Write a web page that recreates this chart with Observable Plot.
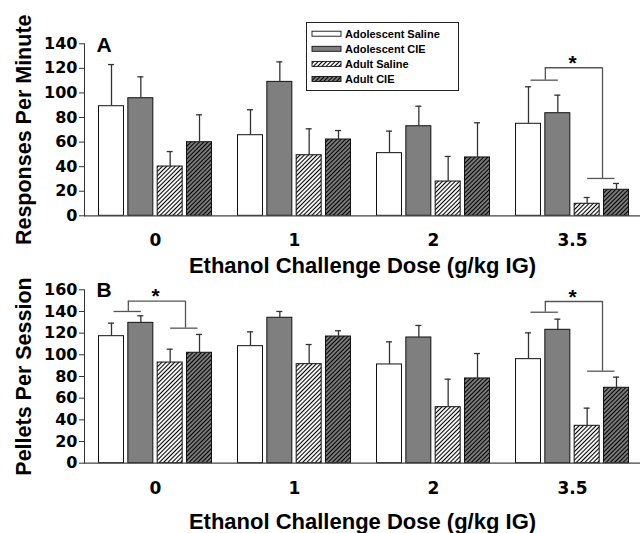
<!DOCTYPE html>
<html><head><meta charset="utf-8">
<script src="https://cdn.jsdelivr.net/npm/d3@7"></script>
<script src="https://cdn.jsdelivr.net/npm/@observablehq/plot@0.6"></script>
<style>
body{margin:0;background:#fff;}
#chart{width:641px;}
#chart svg{display:block;}
</style></head><body>
<svg width="0" height="0" style="position:absolute">
<defs>
<pattern id="hatchW" patternUnits="userSpaceOnUse" width="3" height="3" patternTransform="rotate(45)">
<rect width="3" height="3" fill="#ffffff"/>
<line x1="1.5" y1="-1" x2="1.5" y2="4" stroke="#000" stroke-width="1.1"/>
</pattern>
<pattern id="hatchG" patternUnits="userSpaceOnUse" width="3" height="3" patternTransform="rotate(45)">
<rect width="3" height="3" fill="#7f7f7f"/>
<line x1="1.5" y1="-1" x2="1.5" y2="4" stroke="#000" stroke-width="1.1"/>
</pattern>
</defs></svg>
<div id="chart"></div>
<script>
const doses = ["0", "1", "2", "3.5"];
const groups = ["Adolescent Saline", "Adolescent CIE", "Adult Saline", "Adult CIE"];
const fills = ["#ffffff", "#7f7f7f", "url(#hatchW)", "url(#hatchG)"];

// Panel A: Responses Per Minute (rows = dose, cols = group)
const respMean = [[89.2, 95.7, 40.1, 59.9], [65.6, 109.0, 49.3, 62.1], [51.0, 72.9, 27.9, 47.5], [74.9, 83.5, 9.8, 21.2]];
const respSEM  = [[33.9, 17.4, 12.2, 22.3], [20.7, 16.3, 21.5, 7.3], [17.9, 16.3, 20.4, 28.2], [30.1, 14.7, 5.1, 5.1]];
const respTicks = [0, 20, 40, 60, 80, 100, 120, 140];
const respBrackets = [{dose: "3.5", left: 110.4, right: 30.4, top: 120.5}];

// Panel B: Pellets Per Session
const pelMean = [[117.2, 129.5, 92.9, 101.9], [108.0, 134.2, 91.4, 116.9], [91.1, 116.0, 51.7, 78.2], [96.0, 123.1, 34.5, 69.6]];
const pelSEM  = [[12.0, 6.5, 12.3, 16.9], [13.2, 5.8, 18.1, 5.3], [20.9, 11.1, 25.8, 23.0], [24.3, 9.8, 16.3, 9.8]];
const pelTicks = [0, 20, 40, 60, 80, 100, 120, 140, 160];
const pelBrackets = [{dose: "0", left: 140.0, right: 124.6, top: 149.5}, {dose: "3.5", left: 139.3, right: 84.9, top: 149.2}];

const xTitle = "Ethanol Challenge Dose (g/kg IG)";
const tickFont = '"DejaVu Sans", Verdana, sans-serif';

function panel({mean, sem, ticks, brackets, yLabel, letter, height, marginTop, marginBottom, titleDy, letterDy}) {
  const rows = [];
  doses.forEach((d, i) => groups.forEach((g, j) => rows.push({dose: d, group: g, value: mean[i][j], sem: sem[i][j]})));
  const halfStep = 14.67;
  const bs = {stroke: "#555", strokeWidth: 1.3};
  return Plot.plot({
    width: 641, height, marginLeft: 84, marginRight: 1, marginTop, marginBottom,
    style: {fontFamily: '"Liberation Sans", Arial, Helvetica, sans-serif', fontWeight: "bold", background: "white", color: "black", overflow: "visible"},
    fx: {domain: doses, padding: 0, axis: null, label: null},
    x: {domain: groups, axis: null, paddingInner: 0.148, paddingOuter: 0, insetLeft: 14.5, insetRight: 11.5, round: false, label: null},
    y: {domain: [0, ticks[ticks.length - 1]], axis: null},
    color: {domain: groups, range: fills},
    marks: [
      Plot.barY(rows, {fx: "dose", x: "group", y: "value", fill: "group", stroke: "#111", strokeWidth: 1}),
      Plot.ruleX(rows, {fx: "dose", x: "group", y1: "value", y2: d => d.value + d.sem, stroke: "#333", strokeWidth: 1.3}),
      Plot.tickY(rows, {fx: "dose", x: "group", y: d => d.value + d.sem, stroke: "#333", strokeWidth: 1.3, insetLeft: 9.5, insetRight: 9.5}),
      // significance brackets
      Plot.ruleY(brackets, {fx: "dose", y: "left", x1: () => groups[0], x2: () => groups[1], insetLeft: 15, insetRight: 12, ...bs}),
      Plot.ruleY(brackets, {fx: "dose", y: "right", x1: () => groups[2], x2: () => groups[3], insetLeft: 13, insetRight: 14, ...bs}),
      Plot.ruleX(brackets, {fx: "dose", x: () => groups[1], y1: "left", y2: "top", dx: -12.5, ...bs}),
      Plot.ruleX(brackets, {fx: "dose", x: () => groups[3], y1: "right", y2: "top", dx: -14, ...bs}),
      Plot.ruleY(brackets, {fx: "dose", y: "top", x1: () => groups[1], x2: () => groups[2], insetRight: -2.9, ...bs}),
      Plot.text(brackets, {fx: "dose", x: () => groups[1], y: "top", text: () => "*", dx: halfStep, dy: 2, lineAnchor: "bottom", fontSize: 21}),
      Plot.ruleY([0], {stroke: "#444", strokeWidth: 1.2}),
      Plot.frame({anchor: "left", facet: "super", stroke: "#333"}),
      Plot.axisY({ticks, tickSize: 5, tickPadding: 2, fontSize: 16, fontFamily: tickFont, label: null, facetAnchor: "left", stroke: "#333"}),
      Plot.axisFx({anchor: "bottom", label: null, tickSize: 0, tickPadding: 18.3, fontSize: 17, fontFamily: tickFont, dx: 1.5}),
      Plot.text([yLabel], {facet: "super", frameAnchor: "left", rotate: -90, dx: -54, textAnchor: "middle", lineAnchor: "bottom", fontSize: 21.5}),
      Plot.text([xTitle], {facet: "super", frameAnchor: "bottom", dy: titleDy, textAnchor: "middle", lineAnchor: "bottom", fontSize: 22}),
      Plot.text([letter], {facet: "super", frameAnchor: "top-left", dx: 12, dy: letterDy, lineAnchor: "bottom", textAnchor: "start", fontSize: 21})
    ]
  });
}

const plotA = panel({mean: respMean, sem: respSEM, ticks: respTicks, brackets: respBrackets, yLabel: "Responses Per Minute", letter: "A",
  height: 276, marginTop: 43.3, marginBottom: 60.7, titleDy: 56.7, letterDy: 7.7});
const plotB = panel({mean: pelMean, sem: pelSEM, ticks: pelTicks, brackets: pelBrackets, yLabel: "Pellets Per Session", letter: "B",
  height: 257, marginTop: 13.3, marginBottom: 70.3, titleDy: 65.3, letterDy: 7.4});

// legend (panel A)
const lg = d3.select(plotA).append("g").attr("font-size", 11).attr("font-weight", "bold").attr("text-anchor", "start");
lg.append("rect").attr("x", 306.5).attr("y", 22.5).attr("width", 152).attr("height", 68).attr("fill", "white").attr("stroke", "#222");
groups.forEach((g, i) => {
  const cy = 33.7 + i * 15.1;
  lg.append("rect").attr("x", 312).attr("y", cy - 2.5).attr("width", 29).attr("height", 5).attr("fill", fills[i]).attr("stroke", "#111").attr("stroke-width", 0.9);
  lg.append("text").attr("x", 345).attr("y", cy + 4).attr("fill", "black").text(g);
});

document.getElementById("chart").append(plotA, plotB);
</script>
</body></html>
